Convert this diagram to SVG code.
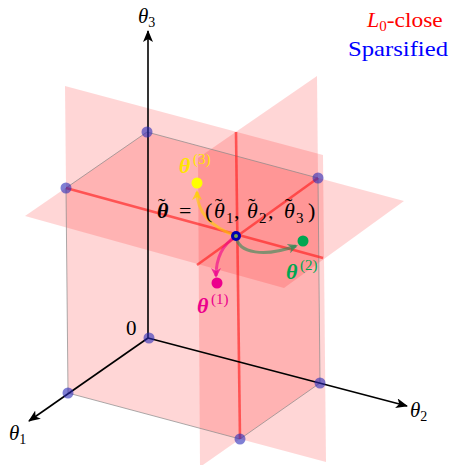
<svg xmlns="http://www.w3.org/2000/svg" width="456" height="465" viewBox="0 0 456 465">
<style>
.plane{fill:#ff0000;fill-opacity:0.16;stroke:none}
.edge{stroke:#888;stroke-width:0.7;fill:none}
.rl{stroke:#ff2020;stroke-opacity:0.65;stroke-width:2.6;fill:none}
.axis{stroke:#000;stroke-width:1.6;fill:none}
.vx{fill:#2a2ab8;fill-opacity:0.6}
text{font-family:"Liberation Serif","DejaVu Serif",serif}
.it{font-style:italic}
.bi{font-style:italic;font-weight:bold}
</style>
<defs>
<marker id="ah" viewBox="0 0 12 10" refX="11" refY="5" markerWidth="12" markerHeight="10" markerUnits="userSpaceOnUse" orient="auto">
<path d="M0,0 L12,5 L0,10 L3,5 Z" fill="#000"/>
</marker>
<marker id="ay" viewBox="0 0 10 10" refX="8" refY="5" markerWidth="10" markerHeight="10" markerUnits="userSpaceOnUse" orient="auto">
<path d="M0,0 L10,5 L0,10 L3,5 Z" fill="#ffd000" fill-opacity="0.75"/>
</marker>
<marker id="ag" viewBox="0 0 10 10" refX="8" refY="5" markerWidth="10" markerHeight="10" markerUnits="userSpaceOnUse" orient="auto">
<path d="M0,0 L10,5 L0,10 L3,5 Z" fill="#2e8b57" fill-opacity="0.75"/>
</marker>
<marker id="am" viewBox="0 0 10 10" refX="8" refY="5" markerWidth="10" markerHeight="10" markerUnits="userSpaceOnUse" orient="auto">
<path d="M0,0 L10,5 L0,10 L3,5 Z" fill="#ec008c" fill-opacity="0.75"/>
</marker>
</defs>
<rect width="456" height="465" fill="#fff"/>
<g id="planes">
<polygon id="plane-theta1" class="plane" points="65,86 68,393 326,462 323,155"/>
<polygon id="plane-theta2" class="plane" points="317,76 320,383 200,467 198,158"/>
<polygon id="plane-theta3" class="plane" points="147,132 25,216 284,288 404,201"/>
</g>
<g id="cube-edges">
<line class="edge" x1="147" y1="132" x2="66" y2="188"/>
<line class="edge" x1="147" y1="132" x2="318" y2="178"/>
<line class="edge" x1="66" y1="188" x2="68" y2="393"/>
<line class="edge" x1="318" y1="178" x2="320" y2="383"/>
<line class="edge" x1="68" y1="393" x2="240" y2="439"/>
<line class="edge" x1="320" y1="383" x2="240" y2="439"/>
</g>
<g id="red-lines">
<line class="rl" x1="66" y1="188" x2="323" y2="258"/>
<line class="rl" x1="318" y1="178" x2="197" y2="265"/>
<line class="rl" x1="240" y1="439" x2="236" y2="132"/>
</g>
<g id="connectors">
<line class="axis" x1="148" y1="338" x2="148" y2="31" marker-end="url(#ah)"/>
<line class="axis" x1="148" y1="338" x2="29" y2="421" marker-end="url(#ah)"/>
<line class="axis" x1="148" y1="338" x2="407" y2="406" marker-end="url(#ah)"/>
<path d="M236,236 C214,228 197,214 197,192" fill="none" stroke="#ffd000" stroke-opacity="0.6" stroke-width="3" marker-end="url(#ay)"/>
<path d="M236,236 C238,254 265,257 296,246" fill="none" stroke="#2e8b57" stroke-opacity="0.6" stroke-width="3" marker-end="url(#ag)"/>
<path d="M236,236 C222,245 216,258 216,276" fill="none" stroke="#ec008c" stroke-opacity="0.6" stroke-width="3" marker-end="url(#am)"/>
</g>
<g id="vertices">
<circle class="vx" cx="147" cy="132" r="5.5"/>
<circle class="vx" cx="66" cy="188" r="5.5"/>
<circle class="vx" cx="318" cy="178" r="5.5"/>
<circle class="vx" cx="149" cy="338" r="5.5"/>
<circle class="vx" cx="68" cy="393" r="5.5"/>
<circle class="vx" cx="320" cy="383" r="5.5"/>
<circle class="vx" cx="240" cy="439" r="5.5"/>
</g>
<g id="theta-tilde">
<circle cx="236" cy="236" r="5" fill="#0000b0"/>
<circle cx="236" cy="236" r="2" fill="#9acd32" fill-opacity="0.8"/>
<text font-family="Liberation Serif, DejaVu Serif, serif" font-size="22" y="218"><tspan class="bi" x="157">θ</tspan><tspan x="158" y="213">˜</tspan><tspan x="179" y="218">=</tspan><tspan x="205">(</tspan><tspan class="it" x="214">θ</tspan><tspan x="215" y="213">˜</tspan><tspan font-size="15" x="226" y="223">1</tspan><tspan x="234" y="218">,</tspan><tspan class="it" x="247">θ</tspan><tspan x="248" y="213">˜</tspan><tspan font-size="15" x="259" y="223">2</tspan><tspan x="268" y="218">,</tspan><tspan class="it" x="284">θ</tspan><tspan x="285" y="213">˜</tspan><tspan font-size="15" x="296" y="223">3</tspan><tspan x="308" y="218">)</tspan></text>
</g>
<g id="theta3-point">
<circle cx="197" cy="183" r="5.5" fill="#ffff00"/>
<text font-family="Liberation Serif, DejaVu Serif, serif" font-size="22" fill="#ffe400"><tspan class="bi" x="179" y="173">θ</tspan><tspan font-size="15" x="193" y="164">(3)</tspan></text>
</g>
<g id="theta2-point">
<circle cx="303" cy="241" r="5.5" fill="#00a651"/>
<text font-family="Liberation Serif, DejaVu Serif, serif" font-size="22" fill="#00a651"><tspan class="bi" x="286" y="279">θ</tspan><tspan font-size="15" x="300" y="270">(2)</tspan></text>
</g>
<g id="theta1-point">
<circle cx="217" cy="283" r="5.5" fill="#ec008c"/>
<text font-family="Liberation Serif, DejaVu Serif, serif" font-size="22" fill="#ec008c"><tspan class="bi" x="197" y="313">θ</tspan><tspan font-size="15" x="211" y="304">(1)</tspan></text>
</g>
<g id="axis-labels" font-family="Liberation Serif, DejaVu Serif, serif" font-size="21">
<text x="138" y="23"><tspan class="it">θ</tspan><tspan font-size="14" dy="4">3</tspan></text>
<text x="9" y="440"><tspan class="it">θ</tspan><tspan font-size="14" dy="4">1</tspan></text>
<text x="410" y="417"><tspan class="it">θ</tspan><tspan font-size="14" dy="4">2</tspan></text>
<text x="126" y="335">0</text>
</g>
<g id="legend" font-family="Liberation Serif, DejaVu Serif, serif" font-size="22">
<text x="367" y="27" fill="#ff0000"><tspan class="it">L</tspan><tspan font-size="15" dy="4">0</tspan><tspan dy="-4" textLength="56" lengthAdjust="spacingAndGlyphs">-close</tspan></text>
<text x="348" y="56" fill="#0000ff" textLength="100" lengthAdjust="spacingAndGlyphs">Sparsified</text>
</g>
</svg>
